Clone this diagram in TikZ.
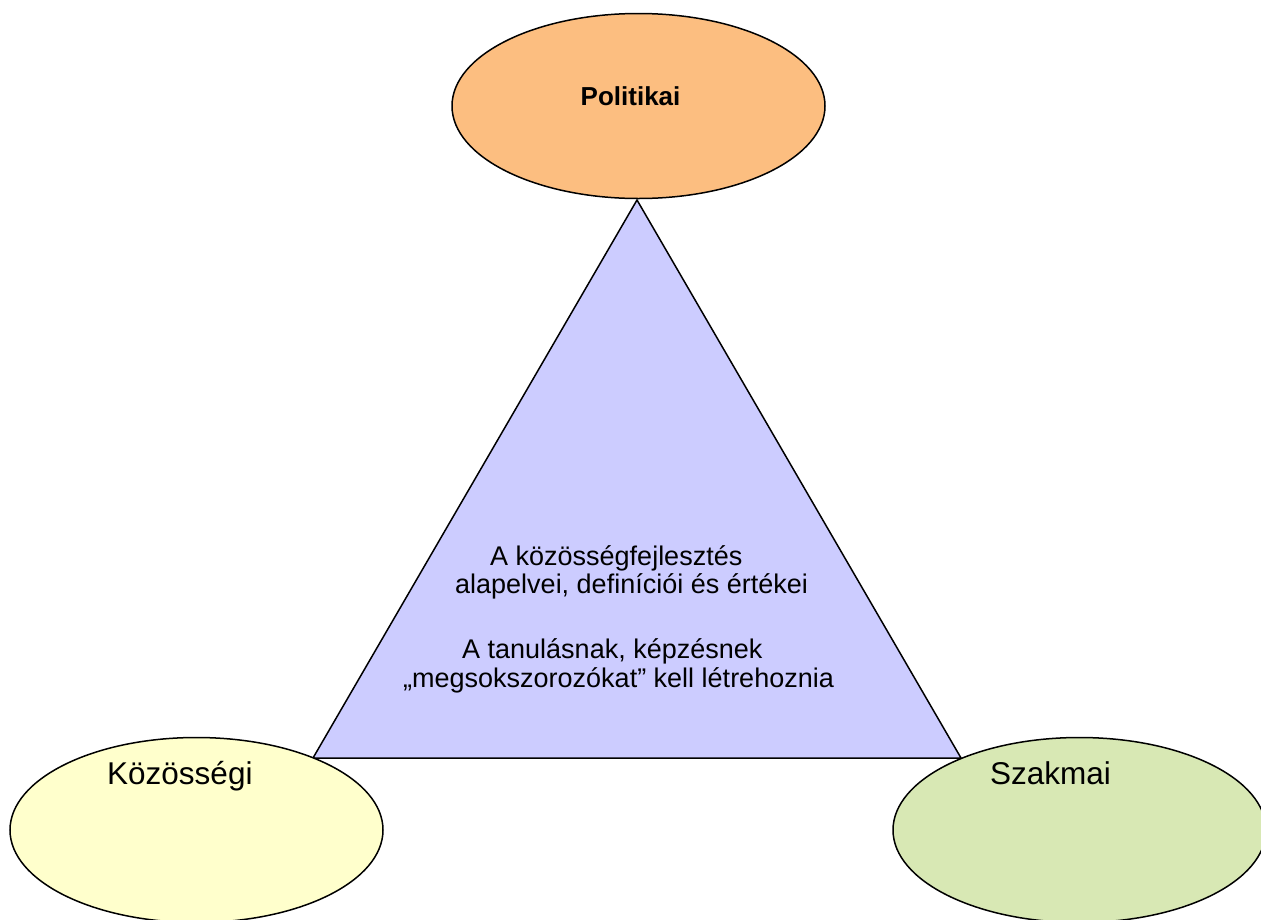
\documentclass[tikz,border=0pt]{standalone}
\usepackage{fontspec}
\setmainfont{Liberation Sans}
\usetikzlibrary{shapes.geometric}
\definecolor{orangefill}{RGB}{252,190,128}
\definecolor{trifill}{RGB}{204,204,255}
\definecolor{yellowfill}{RGB}{255,255,204}
\definecolor{greenfill}{RGB}{216,232,180}
\tikzset{
  oval/.style={ellipse, draw=black, line width=1.5pt, minimum width=373pt, minimum height=185pt, inner sep=0pt},
  lbl/.style={anchor=base west, inner sep=0pt, font=\fontsize{27}{31}\selectfont},
  biglbl/.style={anchor=base west, inner sep=0pt, font=\fontsize{31.5}{35}\selectfont},
}
\begin{document}
\begin{tikzpicture}[x=1pt,y=-1pt]
\useasboundingbox (0,0) rectangle (1261,919);
\clip (0,0) rectangle (1261,919);
% top ellipse
\node[oval, fill=orangefill] (pol) at (638.5,106) {};
% triangle
\coordinate (apex) at (637,200);
\coordinate (bl) at (313,758);
\coordinate (br) at (961,758);
\draw[line width=1.5pt, fill=trifill, line join=miter] (apex) -- (bl) -- (br) -- cycle;
% bottom ellipses
\node[oval, fill=yellowfill] (koz) at (196.5,830) {};
\node[oval, fill=greenfill] (szak) at (1079.5,830) {};
% labels
\node[anchor=base west, inner sep=0pt, font=\fontsize{26}{30}\selectfont\bfseries] (polt) at (580.5,105) {Politikai};
\node[biglbl] (kozt) at (107,784) {Közösségi};
\node[biglbl] (szakt) at (990,784) {Szakmai};
\node[lbl] (t1) at (490,565) {A közösségfejlesztés};
\node[lbl] (t2) at (455,593) {alapelvei, definíciói és értékei};
\node[lbl] (t3) at (462,658) {A tanulásnak, képzésnek};
\node[lbl] (t4) at (403,687) {„megsokszorozókat” kell létrehoznia};
\end{tikzpicture}
\end{document}
